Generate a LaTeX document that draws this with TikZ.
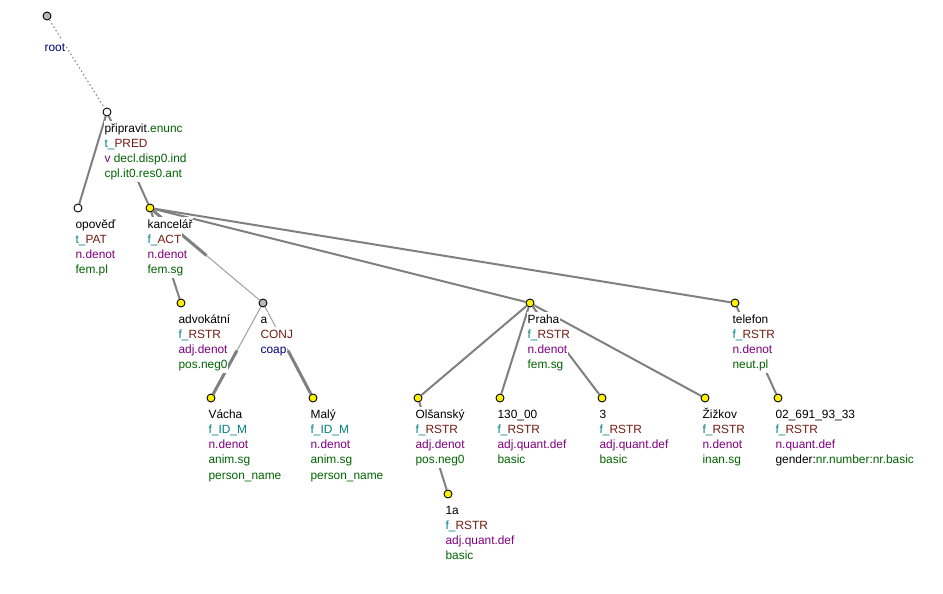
\documentclass[tikz,border=0pt]{standalone}
\usepackage{fontspec}
\setmainfont{Liberation Sans}
\usetikzlibrary{calc}
\definecolor{cteal}{RGB}{0,128,128}
\definecolor{cred}{RGB}{115,30,20}
\definecolor{cpurple}{RGB}{128,0,128}
\definecolor{cgreen}{RGB}{0,100,0}
\definecolor{cnavy}{RGB}{0,0,128}
\definecolor{edgegray}{RGB}{128,128,128}
\definecolor{nodegray}{RGB}{185,185,185}
\newcommand\Tfun[2]{\textcolor{cteal}{#1\_}\textcolor{cred}{#2}}
\newcommand\Cpu[1]{\textcolor{cpurple}{#1}}
\newcommand\Cgr[1]{\textcolor{cgreen}{#1}}
\newcommand\Cnv[1]{\textcolor{cnavy}{#1}}
\newcommand\Tlab[3]{\foreach \t [count=\i] in {#3}{\node[lbl] (#1-\i) at ($(#2)+(-3,{20+15.3*(\i-1)})$) {\t};}}
\begin{document}
\begin{tikzpicture}[x=1pt,y=-1pt,
  tnode/.style={circle,draw=black,line width=0.9pt,minimum size=8pt,inner sep=0pt},
  yel/.style={tnode,fill=yellow},
  gry/.style={tnode,fill=nodegray},
  wht/.style={tnode,fill=white},
  lbl/.style={fill=white,inner sep=0.4pt,anchor=base west,text height=10.6pt,text depth=4pt,font=\fontsize{11.9}{13}\selectfont},
  edge/.style={draw=edgegray,line width=2pt},
  thinedge/.style={draw=edgegray!75,line width=1pt},
  thickedge/.style={draw=edgegray,line width=3pt},
  rootedge/.style={draw=edgegray!85,line width=1.2pt,dash pattern=on 1.5pt off 2.5pt},
]
\useasboundingbox[fill=white] (0,0) rectangle (943,594);
% tree nodes
\node[gry] (root) at (47,16) {};
\node[wht] (prip) at (107,112) {};
\node[wht] (opov) at (78,208) {};
\node[yel] (kanc) at (150,208) {};
\node[yel] (advo) at (181,303) {};
\node[gry] (conj) at (263,303) {};
\node[yel] (vach) at (211,398) {};
\node[yel] (maly) at (313,398) {};
\node[yel] (prah) at (530,303) {};
\node[yel] (olsa) at (418,398) {};
\node[yel] (psc) at (500,398) {};
\node[yel] (tri) at (602,398) {};
\node[yel] (zizk) at (705,398) {};
\node[yel] (tele) at (735,303) {};
\node[yel] (cislo) at (778,398) {};
\node[yel] (jedna) at (448,494) {};
% edges
\draw[rootedge] (root) -- (prip);
\draw[edge] (prip) -- (opov);
\draw[edge] (prip) -- (kanc);
\draw[edge] (kanc) -- (advo);
\draw[thickedge] (kanc) -- ($(kanc)!0.5!(conj)$);
\draw[thinedge] ($(kanc)!0.5!(conj)$) -- (conj);
\draw[thinedge] (conj) -- ($(conj)!0.5!(vach)$);
\draw[thickedge] ($(conj)!0.5!(vach)$) -- (vach);
\draw[thinedge] (conj) -- ($(conj)!0.5!(maly)$);
\draw[thickedge] ($(conj)!0.5!(maly)$) -- (maly);
\draw[edge] (kanc) -- (prah);
\draw[edge] (kanc) -- (tele);
\draw[edge] (prah) -- (olsa);
\draw[edge] (prah) -- (psc);
\draw[edge] (prah) -- (tri);
\draw[edge] (prah) -- (zizk);
\draw[edge] (olsa) -- (jedna);
\draw[edge] (tele) -- (cislo);
% labels
\node[lbl] (root-2) at ($(root)+(-3,35.3)$) {\Cnv{root}};
\Tlab{prip}{prip}{{připravit\Cgr{.enunc}},{\Tfun{t}{PRED}},{\Cpu{v} \Cgr{decl.disp0.ind}},{\Cgr{cpl.it0.res0.ant}}}
\Tlab{opov}{opov}{{opověď},{\Tfun{t}{PAT}},{\Cpu{n.denot}},{\Cgr{fem.pl}}}
\Tlab{kanc}{kanc}{{kancelář},{\Tfun{f}{ACT}},{\Cpu{n.denot}},{\Cgr{fem.sg}}}
\Tlab{advo}{advo}{{advokátní},{\Tfun{f}{RSTR}},{\Cpu{adj.denot}},{\Cgr{pos.neg0}}}
\Tlab{conj}{conj}{{a},{\textcolor{cred}{CONJ}},{\Cnv{coap}}}
\Tlab{vach}{vach}{{Vácha},{\textcolor{cteal}{f\_ID\_M}},{\Cpu{n.denot}},{\Cgr{anim.sg}},{\Cgr{person\_name}}}
\Tlab{maly}{maly}{{Malý},{\textcolor{cteal}{f\_ID\_M}},{\Cpu{n.denot}},{\Cgr{anim.sg}},{\Cgr{person\_name}}}
\Tlab{prah}{prah}{{Praha},{\Tfun{f}{RSTR}},{\Cpu{n.denot}},{\Cgr{fem.sg}}}
\Tlab{olsa}{olsa}{{Olšanský},{\Tfun{f}{RSTR}},{\Cpu{adj.denot}},{\Cgr{pos.neg0}}}
\Tlab{psc}{psc}{{130\_00},{\Tfun{f}{RSTR}},{\Cpu{adj.quant.def}},{\Cgr{basic}}}
\Tlab{tri}{tri}{{3},{\Tfun{f}{RSTR}},{\Cpu{adj.quant.def}},{\Cgr{basic}}}
\Tlab{zizk}{zizk}{{Žižkov},{\Tfun{f}{RSTR}},{\Cpu{n.denot}},{\Cgr{inan.sg}}}
\Tlab{tele}{tele}{{telefon},{\Tfun{f}{RSTR}},{\Cpu{n.denot}},{\Cgr{neut.pl}}}
\Tlab{cislo}{cislo}{{02\_691\_93\_33},{\Tfun{f}{RSTR}},{\Cpu{n.quant.def}},{gender:\Cgr{nr.number:nr.basic}}}
\Tlab{jedna}{jedna}{{1a},{\Tfun{f}{RSTR}},{\Cpu{adj.quant.def}},{\Cgr{basic}}}
\end{tikzpicture}
\end{document}
